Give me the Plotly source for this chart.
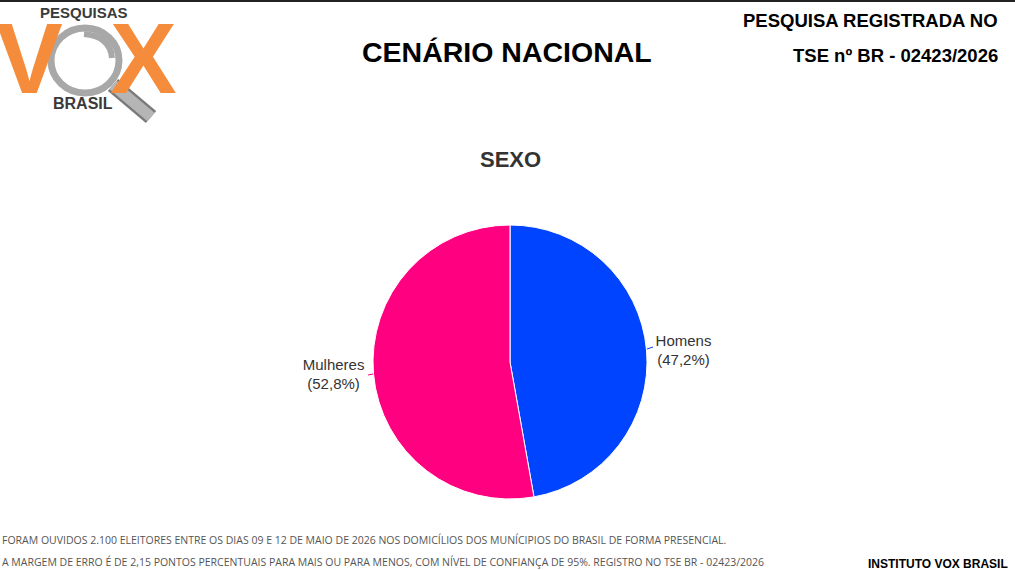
import plotly.graph_objects as go

# dados da pesquisa - sexo
categorias = ["Homens", "Mulheres"]
percentuais = [47.2, 52.8]
cores = ["#0044FF", "#FF0080"]

W, H = 1015, 570


def px(x):
    return x / W


def py(y):
    return 1 - y / H


textos = [f"{v:.1f}".replace(".", ",") + "%" for v in percentuais]

fig = go.Figure()

# pizza: centro ~ (510, 362), raio ~137 px
cx, cy, r = 510, 362, 137
fig.add_trace(go.Pie(
    labels=categorias,
    values=percentuais,
    text=textos,
    texttemplate="%{label}<br>(%{text})",
    textposition="outside",
    textfont=dict(family="Arial, Liberation Sans", size=15, color="#333333"),
    marker=dict(colors=cores, line=dict(color="white", width=1)),
    sort=False,
    direction="clockwise",
    rotation=0,
    showlegend=False,
    hoverinfo="label+text",
    domain=dict(x=[px(cx - r), px(cx + r)], y=[py(cy + r), py(cy - r)]),
))

anns = []
bold = "Arial, Liberation Sans"

# títulos
anns.append(dict(text="<b>CENÁRIO NACIONAL</b>", x=px(507), y=py(52),
                 font=dict(family=bold, size=28.5, color="black")))
anns.append(dict(text="<b>SEXO</b>", x=px(510), y=py(159),
                 font=dict(family=bold, size=22, color="#333333")))
anns.append(dict(text="<b>PESQUISA REGISTRADA NO</b>", x=px(1000), y=py(20), xanchor="right",
                 font=dict(family=bold, size=18.5, color="black")))
anns.append(dict(text="<b>TSE nº BR - 02423/2026</b>", x=px(1000), y=py(56), xanchor="right",
                 font=dict(family=bold, size=18.5, color="black")))

# rodapé
anns.append(dict(text="FORAM OUVIDOS 2.100 ELEITORES ENTRE OS DIAS 09 E 12 DE MAIO DE 2026 NOS DOMICÍLIOS DOS MUNÍCIPIOS DO BRASIL DE FORMA PRESENCIAL.",
                 x=px(0), y=py(540), xanchor="left",
                 font=dict(family="Open Sans", size=10.5, color="#555555")))
anns.append(dict(text="A MARGEM DE ERRO É DE 2,15 PONTOS PERCENTUAIS PARA MAIS OU PARA MENOS, COM NÍVEL DE CONFIANÇA DE 95%. REGISTRO NO TSE BR - 02423/2026",
                 x=px(0), y=py(562), xanchor="left",
                 font=dict(family="Open Sans", size=10.5, color="#555555")))
anns.append(dict(text="<b>INSTITUTO VOX BRASIL</b>", x=px(1010), y=py(564), xanchor="right",
                 font=dict(family=bold, size=12, color="black")))

# logo VOX
laranja = "#F58C3C"
anns.append(dict(text="<b>V</b>", x=px(29), y=py(58),
                 font=dict(family=bold, size=100, color=laranja)))
anns.append(dict(text="<b>X</b>", x=px(143), y=py(58),
                 font=dict(family=bold, size=100, color=laranja)))
anns.append(dict(text="<b>PESQUISAS</b>", x=px(84), y=py(13),
                 font=dict(family=bold, size=15, color="#3a3a3a")))
anns.append(dict(text="<b>BRASIL</b>", x=px(83), y=py(103),
                 font=dict(family=bold, size=16, color="#3a3a3a")))

for a in anns:
    a.update(xref="paper", yref="paper", showarrow=False, yanchor="middle")
    a.setdefault("xanchor", "center")

shapes = [
    # borda superior
    dict(type="line", x0=0, x1=1, y0=py(1), y1=py(1), line=dict(color="#222222", width=2)),
    # cabo da lupa
    dict(type="line", x0=px(113), y0=py(85), x1=px(151), y1=py(117),
         line=dict(color="#7a7a7a", width=16)),
    dict(type="line", x0=px(113), y0=py(85), x1=px(151), y1=py(117),
         line=dict(color="#b5b5b5", width=11)),
    # aro da lupa
    dict(type="circle", x0=px(51), x1=px(119), y0=py(93), y1=py(28),
         fillcolor="white", line=dict(color="#a8a8a8", width=7)),
    # reflexo
    dict(type="path", path=f"M {px(84)} {py(34)} Q {px(110)} {py(36)} {px(112)} {py(58)}",
         line=dict(color="#a8a8a8", width=6)),
    # linhas de ligação dos rótulos
    dict(type="line", x0=px(647), y0=py(349), x1=px(653), y1=py(347),
         line=dict(color=cores[0], width=1)),
    dict(type="line", x0=px(373), y0=py(374), x1=px(368), y1=py(375),
         line=dict(color=cores[1], width=1)),
]
for s in shapes:
    s.update(xref="paper", yref="paper")

fig.update_layout(
    width=W, height=H,
    margin=dict(l=0, r=0, t=0, b=0),
    paper_bgcolor="white",
    plot_bgcolor="white",
    annotations=anns,
    shapes=shapes,
)

fig.write_html("out.html", config={"displayModeBar": False},
               post_script="document.body.style.margin='0';")
